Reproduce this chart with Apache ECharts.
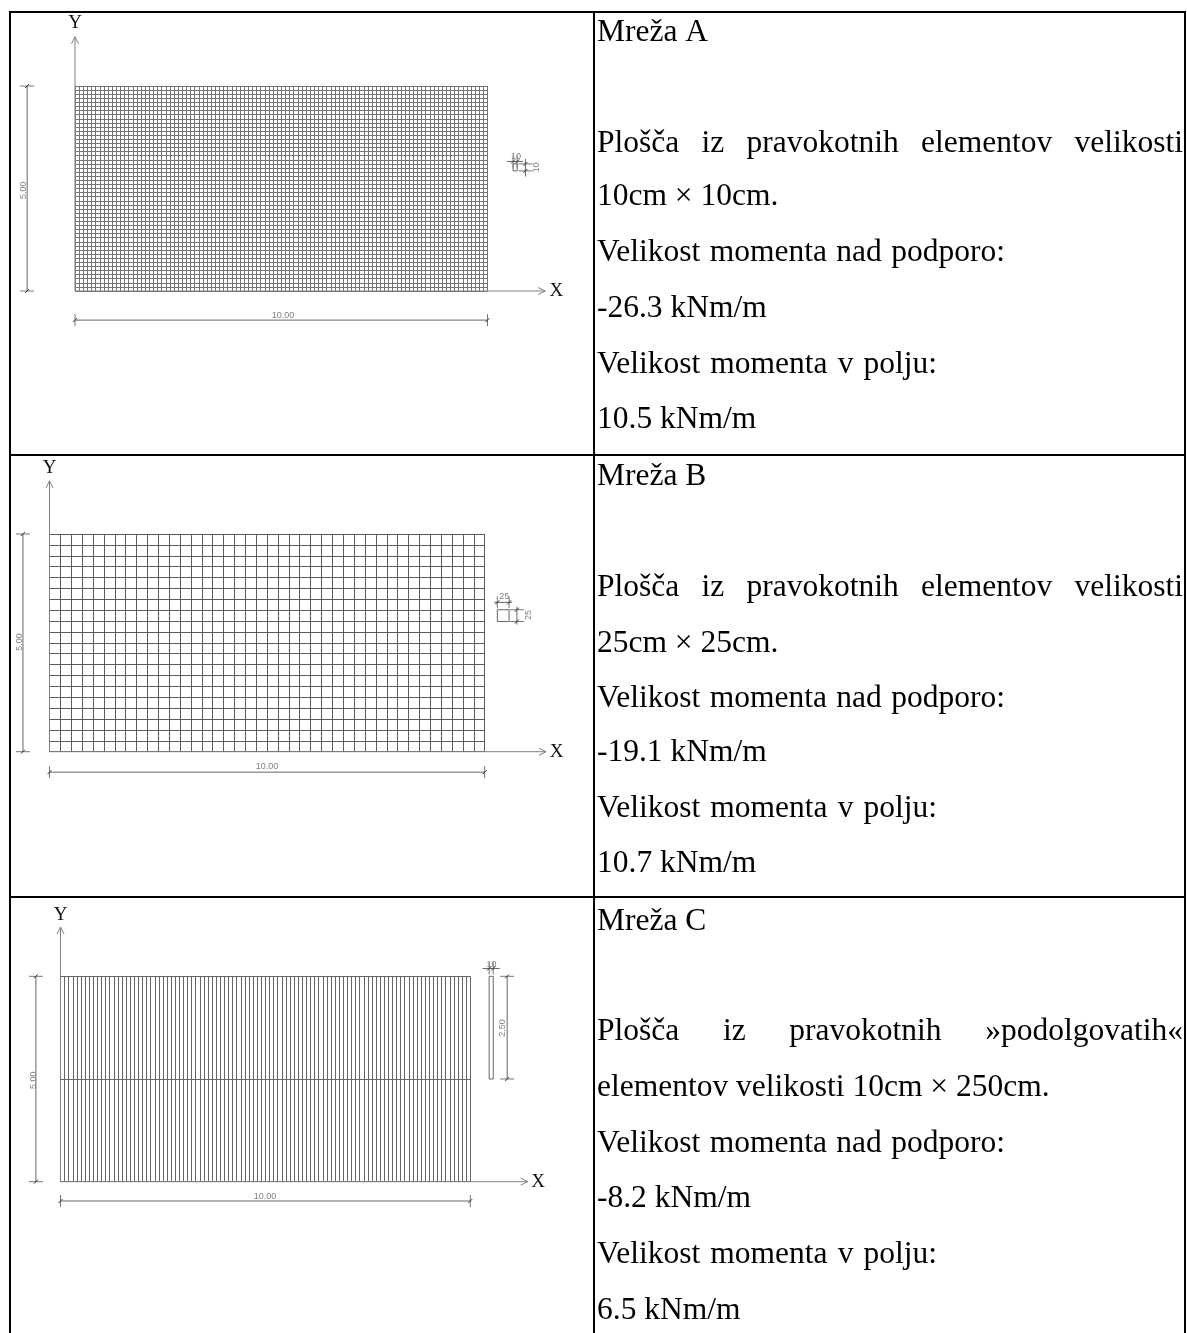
<!DOCTYPE html>
<html>
<head>
<meta charset="utf-8">
<style>
  html, body { margin: 0; padding: 0; background: #fff; }
  #chart { width: 1187px; height: 1333px; }
</style>
<script src="https://cdn.jsdelivr.net/npm/echarts@6/dist/echarts.min.js"></script>
</head>
<body>
<div id="chart"></div>
<script>
// mesh sizes in metres
const plateX = 10
const plateY = 5
const spacingX = [0.1, 0.25, 0.1]
const spacingY = [0.1, 0.25, 2.5]

// text of the right column
const meshTitles = ['Mreža A', 'Mreža B', 'Mreža C']
const descWords = [
  ['Plošča', 'iz', 'pravokotnih', 'elementov', 'velikosti'],
  ['Plošča', 'iz', 'pravokotnih', 'elementov', 'velikosti'],
  ['Plošča', 'iz', 'pravokotnih', '»podolgovatih«']
]
const descSecond = ['10cm × 10cm.', '25cm × 25cm.', 'elementov velikosti 10cm × 250cm.']
const supportLabel = 'Velikost momenta nad podporo:'
const fieldLabel = 'Velikost momenta v polju:'
const supportMoment = ['-26.3 kNm/m', '-19.1 kNm/m', '-8.2 kNm/m']
const fieldMoment = ['10.5 kNm/m', '10.7 kNm/m', '6.5 kNm/m']

// X and Y arrows, [x end, y end] in metres
const axisEnds = [[11.4, 6.2], [11.41, 6.22], [11.4, 6.2]]

// dimension lines [x1, y1, x2, y2] in metres
const dimLinesA = [
  [-1.16, 0, -1.16, 5], [0, -0.71, 10, -0.71],
  [10.47, 3.16, 10.86, 3.16], [10.92, 2.79, 10.92, 3.22],
  [10.62, 2.93, 10.72, 2.93], [10.62, 3.1, 10.72, 3.1], [10.62, 2.93, 10.62, 3.1], [10.72, 2.93, 10.72, 3.1]
]
const dimLinesB = [
  [-0.61, 0, -0.61, 5], [0, -0.47, 10, -0.47],
  [10.22, 3.43, 10.63, 3.43], [10.74, 2.92, 10.74, 3.33],
  [10.29, 2.99, 10.56, 2.99], [10.29, 3.26, 10.56, 3.26], [10.29, 2.99, 10.29, 3.26], [10.56, 2.99, 10.56, 3.26]
]
const dimLinesC = [
  [-0.6, 0, -0.6, 5], [0, -0.47, 10, -0.47],
  [10.3, 5.19, 10.72, 5.19], [10.9, 2.5, 10.9, 5],
  [10.46, 2.5, 10.56, 2.5], [10.46, 5, 10.56, 5], [10.46, 2.5, 10.46, 5], [10.56, 2.5, 10.56, 5]
]

// end ticks [x, y, direction] 0 = horizontal stroke, 1 = vertical stroke
const dimTicksA = [
  [-1.16, 0, 0], [-1.16, 5, 0], [0, -0.71, 1], [10, -0.71, 1],
  [10.62, 3.16, 1], [10.72, 3.16, 1], [10.92, 2.93, 0], [10.92, 3.1, 0]
]
const dimTicksB = [
  [-0.61, 0, 0], [-0.61, 5, 0], [0, -0.47, 1], [10, -0.47, 1],
  [10.29, 3.43, 1], [10.56, 3.43, 1], [10.74, 2.99, 0], [10.74, 3.26, 0]
]
const dimTicksC = [
  [-0.6, 0, 0], [-0.6, 5, 0], [0, -0.47, 1], [10, -0.47, 1],
  [10.46, 5.19, 1], [10.56, 5.19, 1], [10.9, 2.5, 0], [10.9, 5, 0]
]

// dimension texts [x, y, text, rotated]
const dimLabelsA = [[-1.26, 2.46, '5.00', 1], [5.04, -0.59, '10.00', 0], [10.69, 3.29, '10', 0], [11.2, 3.02, '10', 1]]
const dimLabelsB = [[-0.7, 2.52, '5.00', 1], [5.0, -0.33, '10.00', 0], [10.45, 3.56, '25', 0], [11.0, 3.14, '25', 1]]
const dimLabelsC = [[-0.67, 2.47, '5.00', 1], [4.99, -0.37, '10.00', 0], [10.52, 5.28, '10', 0], [10.79, 3.74, '2.50', 1]]

const dimLines = [dimLinesA, dimLinesB, dimLinesC]
const dimTicks = [dimTicksA, dimTicksB, dimTicksC]
const dimLabels = [dimLabelsA, dimLabelsB, dimLabelsC]

// mesh rectangles on the page
const meshRects = [
  { left: 75, top: 86, width: 412.5, height: 205 },
  { left: 49.5, top: 534, width: 435.2, height: 217.7 },
  { left: 60.5, top: 976.3, width: 409.8, height: 205.4 }
]
const meshGrey = ['#757575', '#5c5c5c', '#666']
const xNameGap = [62, 65, 61]
const yNameGap = [53, 56, 52]

const serif = '"Liberation Serif", serif'
const textFont = '31.5px ' + serif
const lineGrey = '#666'

function renderSegment(params, api) {
  const a = api.coord([api.value(0), api.value(1)])
  const b = api.coord([api.value(2), api.value(3)])
  return {
    type: 'line',
    shape: { x1: a[0], y1: a[1], x2: b[0], y2: b[1] },
    style: { stroke: lineGrey, lineWidth: 1 },
    silent: true
  }
}

function renderTick(params, api) {
  const p = api.coord([api.value(0), api.value(1)])
  const vertical = api.value(2) === 1
  const dx = vertical ? 0 : 7
  const dy = vertical ? 6 : 0
  return {
    type: 'group',
    silent: true,
    children: [
      {
        type: 'line',
        shape: { x1: p[0] - dx, y1: p[1] - dy, x2: p[0] + dx, y2: p[1] + dy },
        style: { stroke: '#777', lineWidth: 1 }
      },
      {
        type: 'line',
        shape: { x1: p[0] - 2, y1: p[1] + 2, x2: p[0] + 2, y2: p[1] - 2 },
        style: { stroke: '#333', lineWidth: 1 }
      }
    ]
  }
}

// text is read from the list, the data parser would turn 5.00 into 5
function labelRenderer(rows) {
  return function (params, api) {
    const row = rows[params.dataIndex]
    const p = api.coord([row[0], row[1]])
    return {
      type: 'text',
      x: p[0],
      y: p[1],
      rotation: row[3] === 1 ? Math.PI / 2 : 0,
      silent: true,
      style: {
        text: row[2],
        fill: '#808080',
        font: '9px "Liberation Sans", sans-serif',
        textAlign: 'center',
        textVerticalAlign: 'middle'
      }
    }
  }
}

// axis from the plate corner with an open arrow head
function renderArrow(params, api) {
  const o = api.coord([0, 0])
  const p = api.coord([api.value(0), api.value(1)])
  const horizontal = api.value(1) === 0
  const head = horizontal
    ? [[p[0] - 7, p[1] - 3.5], [p[0], p[1]], [p[0] - 7, p[1] + 3.5]]
    : [[p[0] - 3.5, p[1] + 7], [p[0], p[1]], [p[0] + 3.5, p[1] + 7]]
  return {
    type: 'group',
    silent: true,
    children: [
      {
        type: 'line',
        shape: { x1: o[0], y1: o[1], x2: p[0], y2: p[1] },
        style: { stroke: '#808080', lineWidth: 1 }
      },
      {
        type: 'polyline',
        shape: { points: head },
        style: { stroke: '#808080', lineWidth: 1, fill: 'none' }
      }
    ]
  }
}

const grid = meshRects.map(r => ({ ...r, containLabel: false }))
const xAxis = meshRects.map((r, i) => ({
  type: 'value',
  gridIndex: i,
  min: 0,
  max: plateX,
  interval: spacingX[i],
  name: 'X',
  nameLocation: 'end',
  nameGap: xNameGap[i],
  nameTextStyle: { fontFamily: serif, fontSize: 19, color: '#111' },
  axisLine: { show: false },
  axisTick: { show: false },
  axisLabel: { show: false },
  splitLine: { show: true, lineStyle: { color: meshGrey[i], width: 1 } }
}))
const yAxis = meshRects.map((r, i) => ({
  type: 'value',
  gridIndex: i,
  min: 0,
  max: plateY,
  interval: spacingY[i],
  name: 'Y',
  nameLocation: 'end',
  nameGap: yNameGap[i],
  nameTextStyle: { fontFamily: serif, fontSize: 19, color: '#111' },
  axisLine: { show: false },
  axisTick: { show: false },
  axisLabel: { show: false },
  splitLine: { show: true, lineStyle: { color: meshGrey[i], width: 1 } }
}))

const series = []
meshRects.forEach((r, i) => {
  const base = { type: 'custom', coordinateSystem: 'cartesian2d', xAxisIndex: i, yAxisIndex: i, silent: true, animation: false }
  series.push({ ...base, renderItem: renderSegment, data: dimLines[i] })
  series.push({ ...base, renderItem: renderTick, data: dimTicks[i] })
  series.push({ ...base, renderItem: labelRenderer(dimLabels[i]), data: dimLabels[i].map(row => [row[0], row[1]]) })
  series.push({ ...base, renderItem: renderArrow, data: [[axisEnds[i][0], 0], [0, axisEnds[i][1]]] })
})

// table and right column drawn as graphic elements
const measure = document.createElement('canvas').getContext('2d')
measure.font = textFont

function textItem(text, x, y) {
  return {
    type: 'text',
    x: x,
    y: y,
    silent: true,
    style: { text: text, font: textFont, fill: '#000', textAlign: 'left', textVerticalAlign: 'middle' }
  }
}

// words spread between the cell edge and the given right end
function justified(words, y, right) {
  const left = 597
  const used = words.reduce((sum, w) => sum + measure.measureText(w).width, 0)
  const gap = (right - left - used) / (words.length - 1)
  let x = left
  return words.map(w => {
    const item = textItem(w, x, y)
    x += measure.measureText(w).width + gap
    return item
  })
}

const border = (x, y, width, height) => ({
  type: 'rect',
  silent: true,
  shape: { x: x, y: y, width: width, height: height },
  style: { fill: '#000' }
})

const graphics = [
  border(9, 11, 1177, 2),
  border(9, 454, 1177, 2),
  border(9, 896, 1177, 2),
  border(9, 11, 2, 1322),
  border(593, 11, 2, 1322),
  border(1184, 11, 2, 1322)
]
const rowY = [
  [33, 144, 197, 253, 309, 365, 420],
  [477, 588, 644, 699, 753, 809, 864],
  [922, 1032, 1088, 1144, 1199, 1255, 1311]
]
meshTitles.forEach((title, i) => {
  const y = rowY[i]
  graphics.push(textItem(title, 597, y[0]))
  graphics.push(...justified(descWords[i], y[1], 1183))
  graphics.push(textItem(descSecond[i], 597, y[2]))
  graphics.push(...justified(supportLabel.split(' '), y[3], 1005))
  graphics.push(textItem(supportMoment[i], 597, y[4]))
  graphics.push(...justified(fieldLabel.split(' '), y[5], 937))
  graphics.push(textItem(fieldMoment[i], 597, y[6]))
})

const chartInstance = echarts.init(document.getElementById('chart'))
chartInstance.setOption({
  animation: false,
  backgroundColor: '#fff',
  grid: grid,
  xAxis: xAxis,
  yAxis: yAxis,
  series: series,
  graphic: { elements: graphics }
})
</script>
</body>
</html>
